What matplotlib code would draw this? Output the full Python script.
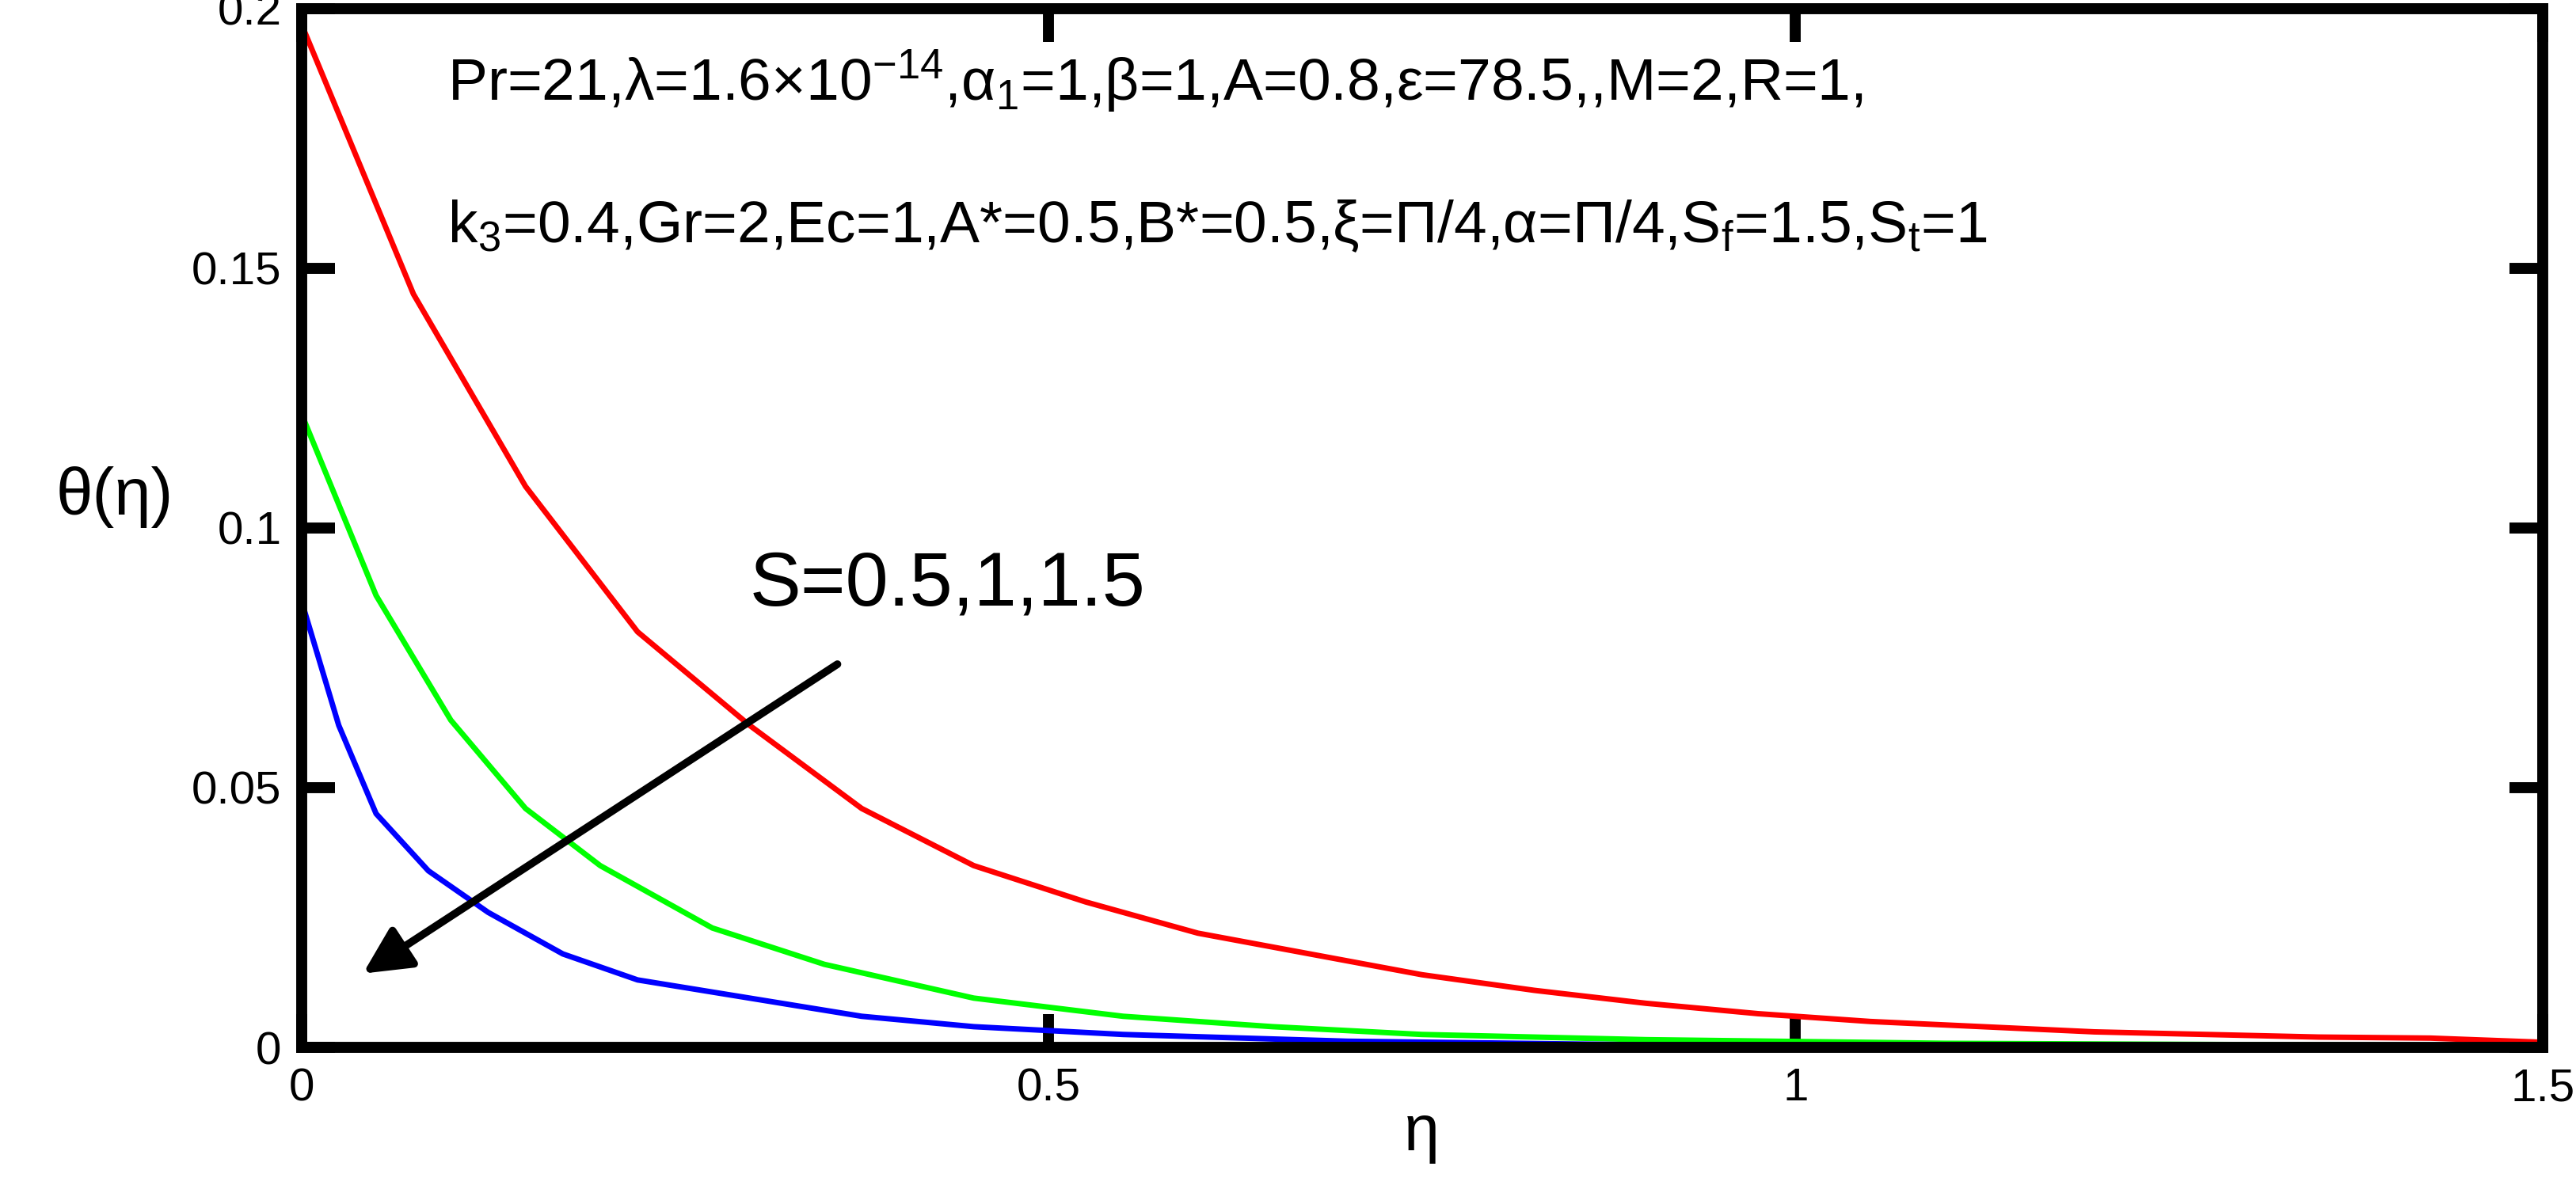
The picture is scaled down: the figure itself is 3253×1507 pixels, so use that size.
import matplotlib
matplotlib.use("Agg")
import matplotlib.pyplot as plt

plt.rcParams['font.family'] = ['Liberation Sans', 'DejaVu Sans']
plt.rcParams['mathtext.fontset'] = 'custom'
plt.rcParams['mathtext.rm'] = 'Liberation Sans'
plt.rcParams['mathtext.it'] = 'Liberation Sans'

red_x = [0, 0.075, 0.15, 0.225, 0.3, 0.375, 0.45, 0.525, 0.6, 0.675, 0.75, 0.825, 0.9, 0.975, 1.05, 1.125, 1.2, 1.275, 1.35, 1.425, 1.5]
red_y = [0.197, 0.145, 0.108, 0.080, 0.062, 0.046, 0.035, 0.028, 0.022, 0.018, 0.014, 0.011, 0.0085, 0.0065, 0.005, 0.004, 0.003, 0.0025, 0.002, 0.0018, 0.001]
green_x = [0, 0.05, 0.1, 0.15, 0.2, 0.275, 0.35, 0.45, 0.55, 0.65, 0.75, 0.9, 1.1, 1.5]
green_y = [0.122, 0.087, 0.063, 0.046, 0.035, 0.023, 0.016, 0.0095, 0.006, 0.004, 0.0025, 0.0015, 0.0008, 0.0003]
blue_x = [0, 0.025, 0.05, 0.085, 0.125, 0.175, 0.225, 0.3, 0.375, 0.45, 0.55, 0.7, 0.9, 1.2, 1.5]
blue_y = [0.086, 0.062, 0.045, 0.034, 0.026, 0.018, 0.013, 0.0095, 0.006, 0.004, 0.0025, 0.0012, 0.0005, 0.0002, 0.0001]

fig = plt.figure(figsize=(32.53, 15.07), dpi=100)
ax = fig.add_axes([0.117, 0.122, 0.87, 0.871])
ax.plot(red_x, red_y, color='#ff0000', lw=5)
ax.plot(green_x, green_y, color='#00ff00', lw=5)
ax.plot(blue_x, blue_y, color='#0000ff', lw=5)
ax.set_xlim(0, 1.5)
ax.set_ylim(0, 0.2)
ax.set_xticks([0, 0.5, 1, 1.5])
ax.set_xticklabels(['0', '0.5', '1', '1.5'])
ax.set_yticks([0, 0.05, 0.1, 0.15, 0.2])
ax.set_yticklabels(['0', '0.05', '0.1', '0.15', '0.2'])
for s in ax.spines.values():
    s.set_linewidth(10)
ax.tick_params(direction='in', length=30, width=10, labelsize=42, pad=18,
               top=True, right=True)
ax.set_xlabel('η', fontsize=58, labelpad=-6)
ax.set_ylabel('θ(η)', fontsize=60, rotation=0, labelpad=70)
ax.text(0.065, 0.93, 'Pr=21,λ=1.6×10$^{-14}$,α$_1$=1,β=1,A=0.8,ε=78.5,,M=2,R=1,',
        transform=ax.transAxes, fontsize=54, va='center')
ax.text(0.065, 0.79, 'k$_3$=0.4,Gr=2,Ec=1,A*=0.5,B*=0.5,ξ=Π/4,α=Π/4,S$_f$=1.5,S$_t$=1',
        transform=ax.transAxes, fontsize=54, va='center')
ax.text(0.2, 0.445, 'S=0.5,1,1.5', transform=ax.transAxes, fontsize=70, va='center')
ax.annotate('', xy=(0.04, 0.014), xytext=(0.36, 0.074),
            arrowprops=dict(arrowstyle='-|>', color='black', lw=7, mutation_scale=90))
fig.savefig('out.png', dpi=100)
